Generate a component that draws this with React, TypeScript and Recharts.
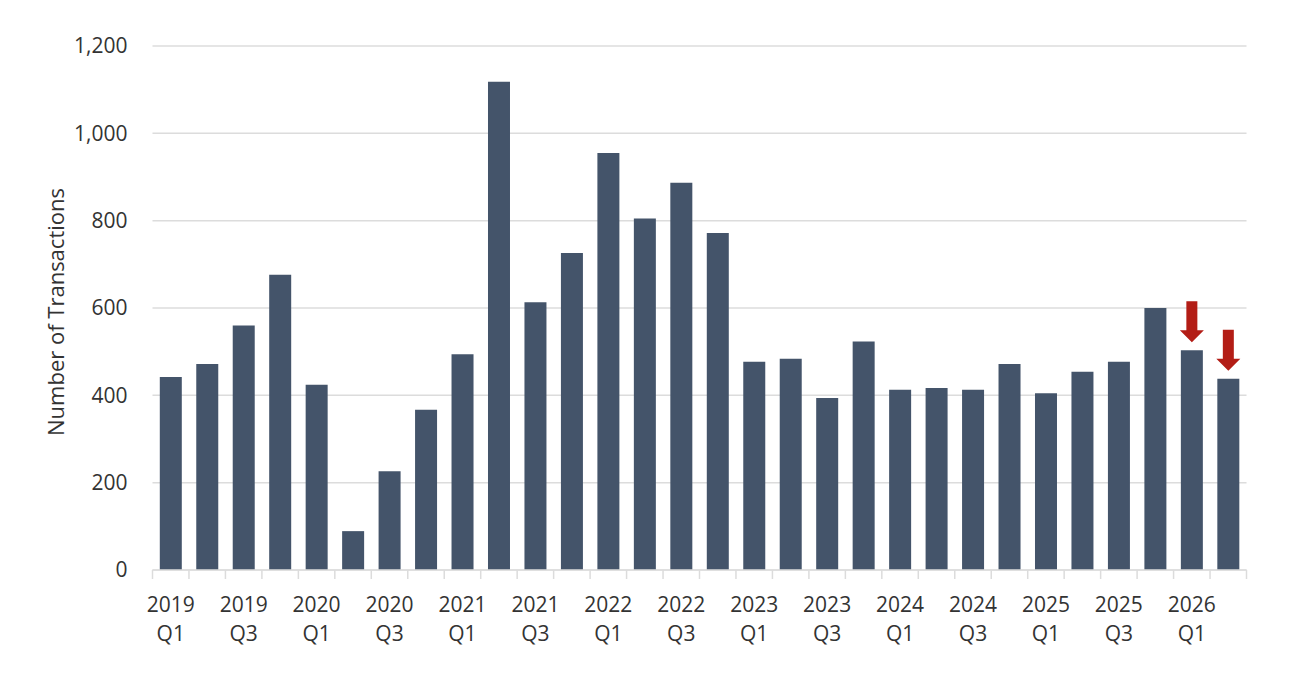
import React from "react";
import { BarChart, Bar, XAxis, YAxis, CartesianGrid, LabelList, Label } from "recharts";

const quarters = [
  "2019 Q1", "2019 Q2", "2019 Q3", "2019 Q4",
  "2020 Q1", "2020 Q2", "2020 Q3", "2020 Q4",
  "2021 Q1", "2021 Q2", "2021 Q3", "2021 Q4",
  "2022 Q1", "2022 Q2", "2022 Q3", "2022 Q4",
  "2023 Q1", "2023 Q2", "2023 Q3", "2023 Q4",
  "2024 Q1", "2024 Q2", "2024 Q3", "2024 Q4",
  "2025 Q1", "2025 Q2", "2025 Q3", "2025 Q4",
  "2026 Q1", "2026 Q2",
];

const transactions = [
  442, 472, 560, 676,
  424, 89, 226, 367,
  494, 1118, 613, 726,
  955, 805, 887, 772,
  477, 484, 394, 523,
  413, 417, 413, 472,
  405, 454, 477, 600,
  503, 438,
];

// 1 = red down-arrow annotation above the bar
const arrowFlags = [
  0, 0, 0, 0, 0, 0, 0, 0, 0, 0,
  0, 0, 0, 0, 0, 0, 0, 0, 0, 0,
  0, 0, 0, 0, 0, 0, 0, 0, 1, 1,
];

const yTicks = [0, 200, 400, 600, 800, 1000, 1200];

const data = quarters.map((q, i) => ({
  quarter: q,
  value: transactions[i],
  arrow: arrowFlags[i],
}));

const FONT = "'Open Sans', 'Noto Sans', sans-serif";
const TEXT = "#333333";
const GRID = "#dcdcdc";
const BAR = "#44546A";
const RED = "#B31D16";

const CHART_W = 1275;
const CHART_H = 662;
const MARGIN = { top: 38, right: 36.5, bottom: 30, left: 0 };
const Y_W = 144.5;
const PLOT_W = CHART_W - MARGIN.right - MARGIN.left - Y_W;

const XTick = (props: any) => {
  const { x, y, payload, index } = props;
  const half =
    payload && typeof payload.offset === "number" && payload.offset > 0
      ? payload.offset
      : PLOT_W / quarters.length / 2;
  const i = typeof index === "number" ? index : quarters.indexOf(payload.value);
  const [yr, q] = String(payload.value).split(" ");
  const showText = i % 2 === 0;
  return (
    <g>
      <line x1={x - half} x2={x - half} y1={y} y2={y + 9} stroke={GRID} strokeWidth={1.5} />
      {i === quarters.length - 1 && (
        <line x1={x + half} x2={x + half} y1={y} y2={y + 9} stroke={GRID} strokeWidth={1.5} />
      )}
      {showText && (
        <text
          x={x}
          y={y}
          textAnchor="middle"
          fill={TEXT}
          fontFamily={FONT}
          fontSize={21}
        >
          <tspan x={x} dy={42}>{yr}</tspan>
          <tspan x={x} dy={29}>{q}</tspan>
        </text>
      )}
    </g>
  );
};

const ArrowLabel = (props: any) => {
  const { x, y, width, value } = props;
  if (!value) return null;
  const cx = Number(x) + Number(width) / 2;
  const tip = Number(y) - 8;
  const shaft = 5.5;
  const headW = 12;
  const headH = 12;
  const total = 41;
  const pts = [
    [cx - shaft, tip - total],
    [cx + shaft, tip - total],
    [cx + shaft, tip - headH],
    [cx + headW, tip - headH],
    [cx, tip],
    [cx - headW, tip - headH],
    [cx - shaft, tip - headH],
  ]
    .map((p) => p.join(","))
    .join(" ");
  return <polygon points={pts} fill={RED} />;
};

const YLabel = (props: any) => {
  const vb = props.viewBox || { x: 0, y: MARGIN.top, width: Y_W, height: CHART_H - MARGIN.top - MARGIN.bottom - 70 };
  const cx = vb.x + 47;
  const cy = vb.y + vb.height / 2 + 4;
  return (
    <text
      x={cx}
      y={cy}
      transform={`rotate(-90, ${cx}, ${cy})`}
      textAnchor="middle"
      dominantBaseline="central"
      fill={TEXT}
      fontFamily={FONT}
      fontSize={22}
    >
      Number of Transactions
    </text>
  );
};

export default function App() {
  return (
    <div style={{ width: CHART_W, height: CHART_H, background: "#fff" }}>
      <BarChart
        width={CHART_W}
        height={CHART_H}
        data={data}
        margin={MARGIN}
        barCategoryGap="20%"
      >
        <CartesianGrid vertical={false} stroke={GRID} strokeWidth={1.5} />
        <XAxis
          dataKey="quarter"
          interval={0}
          height={70}
          tickLine={false}
          tickSize={0}
          tickMargin={0}
          axisLine={{ stroke: GRID, strokeWidth: 1.5 }}
          tick={<XTick />}
        />
        <YAxis
          width={Y_W}
          domain={[0, 1200]}
          ticks={yTicks}
          interval={0}
          axisLine={false}
          tickLine={false}
          tickSize={0}
          tickMargin={25}
          tickFormatter={(v: number) => v.toLocaleString("en-US")}
          tick={{ fill: TEXT, fontFamily: FONT, fontSize: 21 }}
        >
          <Label content={<YLabel />} />
        </YAxis>
        <Bar dataKey="value" fill={BAR} isAnimationActive={false}>
          <LabelList dataKey="arrow" content={<ArrowLabel />} />
        </Bar>
      </BarChart>
    </div>
  );
}
